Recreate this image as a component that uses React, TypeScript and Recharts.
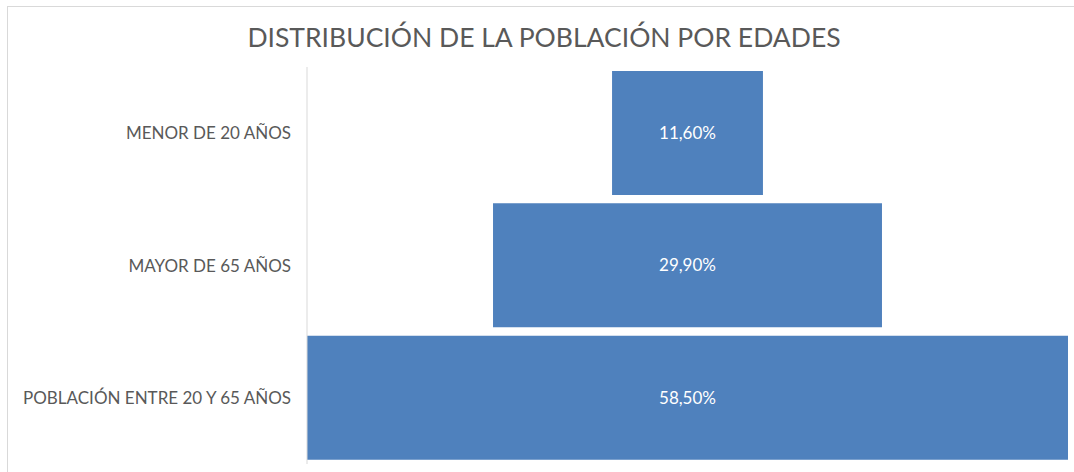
import { BarChart, Bar, XAxis, YAxis, LabelList } from 'recharts'

const categories = ['MENOR DE 20 AÑOS', 'MAYOR DE 65 AÑOS', 'POBLACIÓN ENTRE 20 Y 65 AÑOS']
const shares = [11.6, 29.9, 58.5]

const maxShare = Math.max(...shares)

// funnel look: an invisible spacer pushes every bar to the centre
const data = categories.map((name, i) => ({
  name,
  spacer: (maxShare - shares[i]) / 2,
  value: shares[i],
}))

const fmt = (v: number) => v.toFixed(2).replace('.', ',') + '%'

const font = 'Lato, "Open Sans", sans-serif'

export default function App() {
  return (
    <div style={{ position: 'absolute', left: 0, top: 0, width: 1074, height: 472, overflow: 'hidden', background: '#fff', fontFamily: font }}>
      <div style={{ position: 'absolute', left: 7, top: 6, width: 1200, height: 600, borderTop: '1px solid #d9d9d9', borderLeft: '1px solid #d9d9d9' }} />
      <div style={{ position: 'absolute', left: 7, width: 1074, top: 19, textAlign: 'center', fontSize: 26.5, lineHeight: '36px', color: '#595959' }}>
        DISTRIBUCIÓN DE LA POBLACIÓN POR EDADES
      </div>
      <div style={{ position: 'absolute', left: 0, top: 0 }}>
        <BarChart
          width={1074}
          height={472}
          data={data}
          layout="vertical"
          margin={{ top: 67, right: 6, bottom: 8, left: 7 }}
          barCategoryGap={4}
        >
          <XAxis type="number" hide domain={[0, maxShare]} />
          <YAxis
            type="category"
            dataKey="name"
            width={300}
            axisLine={{ stroke: '#d9d9d9' }}
            tickLine={false}
            tickSize={0}
            tickMargin={16}
            tick={{ fill: '#595959', fontSize: 17, fontFamily: font }}
          />
          <Bar dataKey="spacer" stackId="a" fill="transparent" isAnimationActive={false} />
          <Bar dataKey="value" stackId="a" fill="#4f81bd" isAnimationActive={false}>
            <LabelList dataKey="value" position="center" formatter={(v: any) => fmt(Number(v))} fill="#ffffff" fontSize={17} fontFamily={font} />
          </Bar>
        </BarChart>
      </div>
    </div>
  )
}
